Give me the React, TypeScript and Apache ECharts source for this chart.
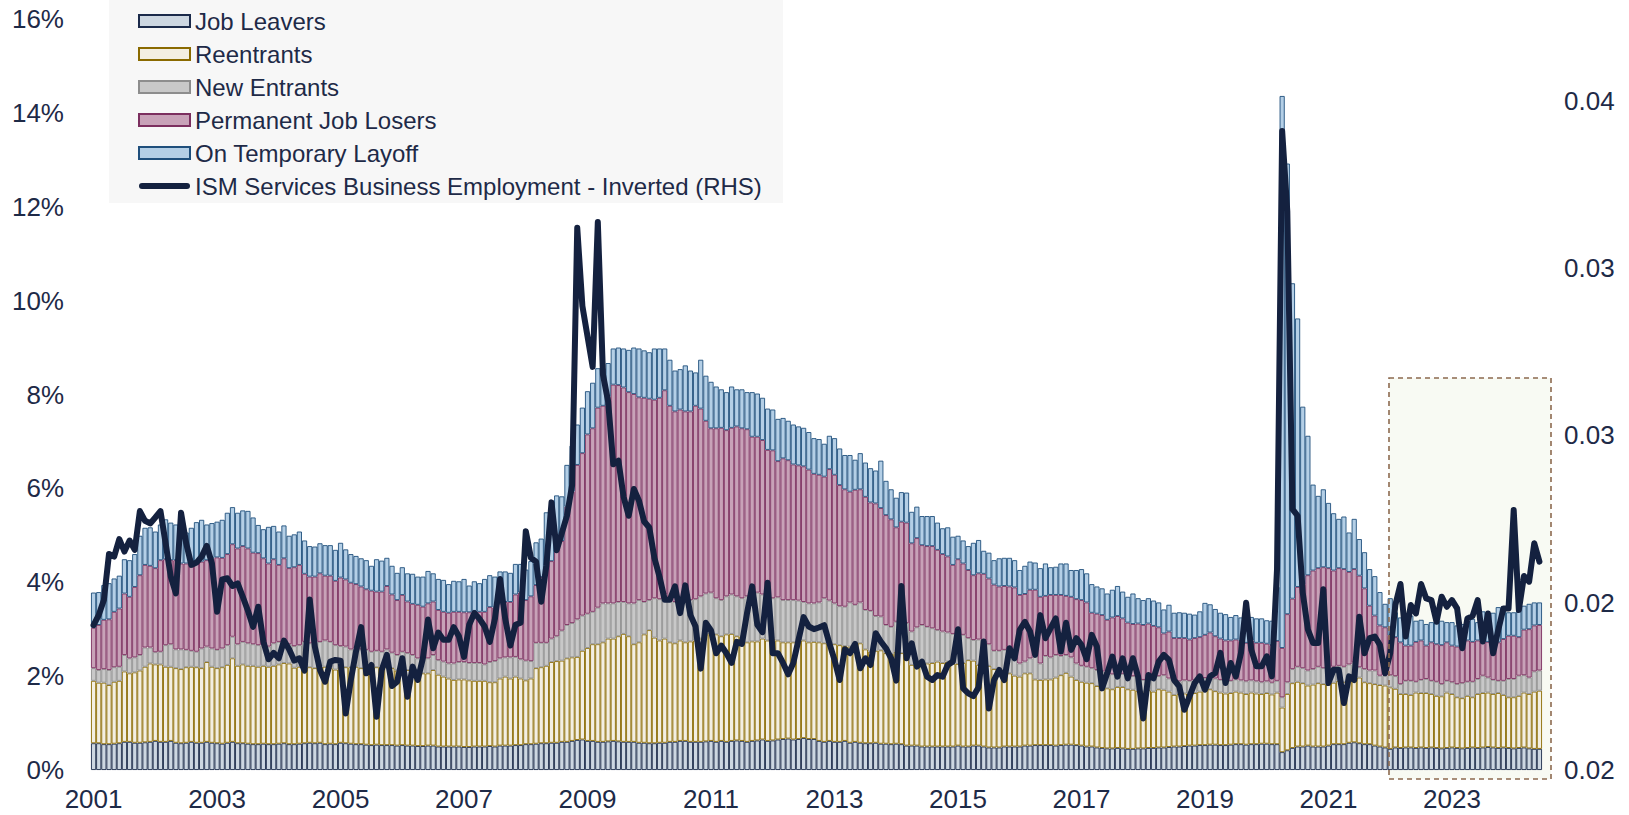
import React, { useEffect, useRef } from "react";
import * as echarts from "echarts";

// Monthly categories Jan 2001 - Jun 2024
const months: string[] = [];
for (let y = 2001; y <= 2024; y++) {
  for (let m = 1; m <= 12; m++) {
    if (y === 2024 && m > 6) break;
    months.push(`${y}-${String(m).padStart(2, "0")}`);
  }
}

// Unemployment by reason, % of labour force (stacked, bottom to top)
const jobLeavers = [
  .57,.57,.55,.55,.56,.57,.60,.60,.58,.58,.59,.60,
  .62,.60,.60,.62,.58,.57,.58,.60,.58,.58,.60,.58,
  .57,.56,.58,.60,.57,.57,.56,.55,.55,.56,.55,.55,
  .56,.57,.55,.55,.56,.57,.58,.57,.58,.55,.56,.55,
  .58,.57,.56,.55,.55,.54,.53,.54,.53,.53,.53,.52,
  .53,.52,.52,.51,.51,.52,.52,.50,.50,.50,.50,.50,
  .49,.49,.50,.50,.50,.51,.50,.52,.52,.52,.53,.53,
  .55,.55,.56,.57,.57,.58,.58,.60,.60,.62,.64,.65,
  .62,.62,.60,.60,.61,.62,.61,.60,.60,.60,.58,.58,
  .57,.57,.58,.58,.60,.60,.62,.62,.60,.60,.60,.61,
  .62,.60,.62,.60,.62,.63,.62,.60,.62,.63,.65,.62,
  .63,.65,.66,.67,.65,.66,.68,.66,.66,.62,.60,.62,
  .60,.60,.62,.58,.60,.58,.57,.57,.58,.56,.56,.55,
  .56,.55,.52,.52,.52,.50,.50,.50,.50,.50,.50,.50,
  .52,.50,.50,.52,.52,.50,.48,.48,.48,.50,.50,.50,
  .50,.52,.52,.53,.53,.53,.53,.52,.53,.54,.54,.53,
  .52,.50,.50,.48,.47,.46,.46,.47,.46,.45,.45,.46,
  .46,.47,.47,.48,.48,.49,.50,.50,.51,.52,.52,.53,
  .53,.54,.54,.53,.53,.54,.55,.55,.54,.55,.55,.56,
  .56,.55,.55,.38,.42,.47,.50,.50,.52,.50,.50,.50,
  .52,.55,.55,.55,.58,.59,.57,.55,.55,.52,.50,.48,
  .45,.48,.47,.48,.48,.47,.48,.47,.48,.47,.46,.47,
  .48,.47,.46,.47,.48,.47,.48,.49,.48,.47,.48,.47,
  .46,.47,.48,.46,.45,.45,
];

const reentrants = [
  1.33,1.29,1.31,1.26,1.32,1.33,1.50,1.46,1.50,1.54,1.61,1.67,
  1.63,1.65,1.60,1.58,1.59,1.58,1.61,1.60,1.61,1.59,1.70,1.62,
  1.60,1.63,1.66,1.78,1.65,1.68,1.66,1.67,1.65,1.66,1.65,1.67,
  1.69,1.71,1.72,1.63,1.64,1.63,1.61,1.60,1.62,1.65,1.61,1.59,
  1.62,1.62,1.63,1.65,1.62,1.59,1.64,1.65,1.67,1.67,1.64,1.60,
  1.61,1.61,1.61,1.59,1.55,1.54,1.61,1.53,1.49,1.45,1.42,1.43,
  1.44,1.42,1.40,1.40,1.40,1.36,1.37,1.43,1.47,1.43,1.46,1.42,
  1.36,1.40,1.61,1.62,1.65,1.72,1.74,1.73,1.78,1.78,1.77,1.89,
  1.98,2.06,2.08,2.12,2.19,2.18,2.24,2.30,2.25,2.08,2.14,2.31,
  2.41,2.25,2.18,2.22,2.12,2.10,2.14,2.10,2.14,2.16,2.20,2.28,
  2.31,2.29,2.23,2.29,2.28,2.22,2.23,2.12,2.12,2.11,2.15,2.14,
  2.17,2.11,2.06,2.05,2.07,2.06,2.08,2.06,2.07,2.10,2.10,2.11,
  2.08,2.06,2.02,2.05,2.10,2.12,2.00,1.95,1.96,1.99,1.93,1.92,
  1.96,1.94,1.95,1.72,1.68,1.77,1.77,1.78,1.81,1.78,1.81,1.77,
  1.74,1.78,1.84,1.81,1.72,1.74,1.74,1.67,1.64,1.63,1.56,1.51,
  1.49,1.54,1.54,1.40,1.39,1.40,1.40,1.45,1.49,1.53,1.45,1.39,
  1.36,1.36,1.35,1.31,1.27,1.28,1.26,1.30,1.31,1.27,1.26,1.23,
  1.21,1.23,1.20,1.24,1.23,1.18,1.10,1.12,1.12,1.10,1.12,1.14,
  1.16,1.18,1.14,1.12,1.10,1.10,1.12,1.10,1.08,1.10,1.08,1.06,
  1.08,1.06,1.10,0.95,1.20,1.38,1.38,1.35,1.28,1.32,1.35,1.33,
  1.30,1.31,1.35,1.33,1.37,1.42,1.40,1.32,1.30,1.31,1.31,1.32,
  1.31,1.25,1.15,1.14,1.12,1.18,1.16,1.17,1.14,1.11,1.11,1.18,
  1.14,1.08,1.07,1.11,1.07,1.15,1.16,1.16,1.14,1.17,1.12,1.08,
  1.09,1.11,1.17,1.16,1.22,1.24,
];

const newEntrants = [
  .27,.27,.29,.32,.31,.30,.35,.32,.32,.33,.41,.34,
  .26,.27,.46,.48,.40,.42,.37,.34,.33,.42,.33,.39,
  .39,.40,.42,.46,.46,.48,.48,.46,.46,.44,.43,.48,
  .48,.50,.41,.46,.46,.53,.51,.54,.53,.56,.56,.52,
  .44,.44,.38,.39,.40,.43,.35,.35,.32,.37,.33,.33,
  .38,.36,.32,.28,.30,.32,.32,.31,.32,.32,.35,.37,
  .37,.37,.38,.38,.35,.43,.45,.43,.41,.45,.42,.41,
  .42,.37,.54,.52,.49,.50,.53,.64,.71,.73,.80,.75,
  .73,.69,.78,.83,.75,.75,.73,.68,.70,.87,.90,.69,
  .64,.84,.88,.94,.90,.88,.86,.94,.88,.88,.90,.87,
  .85,.77,.77,.81,.84,.85,.81,.98,1.04,1.04,.94,.98,
  .86,.92,.90,.90,.90,.89,.82,.83,.82,.85,.96,.88,
  .87,.83,.84,.94,.82,.87,.84,.87,.74,.72,.60,.58,
  .64,.53,.66,.71,.84,.82,.78,.74,.67,.67,.62,.63,
  .62,.60,.47,.44,.54,.52,.46,.39,.42,.43,.48,.51,
  .28,.25,.32,.50,.35,.50,.47,.48,.41,.38,.41,.35,
  .34,.34,.32,.34,.36,.28,.32,.30,.28,.30,.29,.29,
  .25,.28,.28,.28,.31,.28,.28,.27,.28,.28,.27,.28,
  .27,.26,.27,.27,.28,.26,.26,.26,.27,.26,.26,.25,
  .25,.25,.25,.22,.25,.30,.32,.32,.32,.33,.35,.34,
  .33,.34,.32,.32,.30,.28,.22,.28,.27,.29,.20,.21,
  .26,.27,.21,.28,.30,.23,.28,.30,.28,.30,.26,.25,
  .25,.28,.32,.30,.33,.32,.37,.32,.30,.26,.30,.39,
  .39,.43,.37,.35,.43,.43,
];

const permanentJobLosers = [
  .86,.96,1.05,1.08,1.18,1.24,1.31,1.31,1.50,1.70,1.76,1.74,
  1.79,1.95,1.83,1.79,1.90,1.83,1.84,1.86,1.90,1.85,1.84,1.92,
  1.97,1.93,1.94,1.97,2.04,2.04,2.02,1.95,1.96,1.85,1.77,1.79,
  1.64,1.73,1.62,1.68,1.71,1.45,1.42,1.41,1.46,1.38,1.41,1.37,
  1.46,1.43,1.42,1.37,1.34,1.29,1.30,1.26,1.28,1.35,1.24,1.17,
  1.21,1.10,1.09,1.14,1.12,1.17,1.14,1.07,1.06,1.08,1.10,1.07,
  1.06,1.08,1.11,1.09,1.12,1.17,1.14,1.17,1.18,1.18,1.33,1.42,
  1.29,1.38,1.23,1.40,1.64,1.65,1.91,1.91,2.52,2.80,3.29,3.46,
  3.82,3.91,4.26,4.21,4.40,4.66,4.62,4.57,4.50,4.46,4.32,4.35,
  4.29,4.23,4.29,4.35,4.14,4.06,4.06,3.98,4.02,4.12,4.00,3.68,
  3.50,3.62,3.67,3.54,3.55,3.62,3.62,3.56,3.32,3.32,3.29,3.08,
  3.15,2.90,3.02,2.98,2.89,2.88,2.89,2.85,2.76,2.72,2.59,2.80,
  2.74,2.58,2.50,2.36,2.45,2.41,2.41,2.31,2.40,2.31,2.34,2.29,
  2.01,2.27,2.14,1.88,1.90,1.70,1.72,1.75,1.71,1.65,1.62,1.47,
  1.61,1.52,1.45,1.38,1.41,1.42,1.40,1.41,1.37,1.36,1.37,1.37,
  1.46,1.44,1.46,1.41,1.42,1.28,1.33,1.28,1.30,1.26,1.29,1.37,
  1.40,1.37,1.18,1.20,1.20,1.18,1.21,1.21,1.18,1.12,1.11,1.14,
  1.17,1.14,1.12,1.04,.89,1.00,.93,.92,.90,.88,.90,.88,
  .92,.95,.90,.88,.85,.86,.85,.84,.82,.85,.82,.84,
  .80,.80,.85,1.05,1.45,1.50,1.70,1.78,2.03,2.10,2.10,2.15,
  2.15,2.05,2.08,2.08,1.97,1.99,1.95,1.72,1.38,1.17,1.07,1.03,
  .84,.83,.89,.75,.75,.85,.84,.71,.82,.80,.83,.82,
  .78,.80,.87,.88,.85,.82,.82,.76,.87,.82,.89,.92,
  .92,.82,.97,1.03,.98,.97,
];

const temporaryLayoff = [
  .75,.70,.74,.77,.71,.70,.73,.78,.70,.84,.79,.82,
  .78,.76,.85,.80,.76,.86,.66,.76,.86,.89,.76,.75,
  .76,.81,.88,.79,.76,.76,.80,.75,.60,.62,.78,.71,
  .71,.70,.69,.70,.71,.71,.65,.64,.64,.65,.65,.66,
  .74,.64,.61,.60,.60,.62,.53,.69,.66,.60,.61,.58,
  .59,.60,.64,.60,.64,.69,.60,.66,.68,.61,.66,.65,
  .71,.57,.63,.61,.70,.68,.66,.68,.65,.62,.65,.61,
  .65,.75,.91,.82,1.14,1.02,1.09,.95,.89,.98,.86,.97,
  .92,.97,.84,.80,.72,.77,.80,.83,.90,.99,1.04,1.01,
  .99,1.09,1.05,.89,.98,.87,.86,.98,.87,.71,1.04,.96,
  .99,.89,.82,.81,.88,.79,.83,.79,.95,.92,.90,.88,
  .87,.90,.86,.84,.85,.83,.82,.80,.76,.76,.70,.71,
  .78,.78,.73,.78,.64,.77,.73,.73,.70,1.01,.73,.64,
  .63,.63,.64,.67,.67,.62,.64,.64,.58,.55,.62,.60,
  .50,.49,.51,.69,.71,.49,.55,.52,.60,.60,.61,.58,
  .53,.60,.60,.58,.61,.69,.59,.60,.67,.69,.57,.62,
  .66,.62,.61,.58,.57,.56,.59,.64,.57,.55,.65,.54,
  .53,.54,.54,.53,.51,.57,.54,.55,.54,.55,.50,.55,
  .68,.60,.58,.55,.56,.50,.52,.50,.52,.50,.52,.52,
  .50,.52,1.15,11.76,9.60,6.72,5.72,3.79,2.97,1.83,1.54,1.66,
  1.39,1.22,1.05,1.12,.84,1.07,.78,.77,.78,.84,.71,.50,
  .80,.53,.53,.65,.64,.45,.44,.46,.43,.55,.52,.43,
  .50,.45,.39,.42,.49,.39,.55,.63,.56,.75,.70,.50,
  .50,.64,.51,.54,.49,.48,
];

// ISM Services Business Employment - Inverted (right-hand scale)
const ismInverted = [
  .01933,.01963,.02008,.02146,.02138,.02190,.02153,.02186,.02158,.02274,.02245,.02237,
  .02255,.02274,.02178,.02078,.02028,.02269,.02178,.02113,.02120,.02138,.02170,.02118,
  .01973,.02070,.02073,.02050,.02058,.02018,.01976,.01928,.01988,.01884,.01831,.01850,
  .01834,.01887,.01861,.01827,.01834,.01797,.02010,.01869,.01799,.01764,.01824,.01829,
  .01827,.01669,.01769,.01854,.01927,.01789,.01814,.01659,.01799,.01844,.01751,.01764,
  .01834,.01719,.01809,.01769,.01834,.01950,.01864,.01911,.01889,.01889,.01927,.01900,
  .01838,.01934,.01969,.01952,.01929,.01883,.01952,.02071,.01952,.01872,.01934,.01940,
  .02214,.02134,.02123,.02003,.02111,.02300,.02157,.02208,.02260,.02351,.03121,.02887,
  .02796,.02705,.03138,.02682,.02602,.02414,.02425,.02317,.02260,.02340,.02305,.02243,
  .02225,.02134,.02077,.02009,.02009,.02049,.01969,.02052,.01963,.01929,.01803,.01940,
  .01917,.01849,.01872,.01849,.01820,.01883,.01877,.01969,.02049,.01934,.01912,.02060,
  .01849,.01849,.01820,.01786,.01820,.01889,.01957,.01929,.01921,.01926,.01933,.01879,
  .01829,.01769,.01861,.01849,.01877,.01804,.01834,.01814,.01909,.01884,.01864,.01834,
  .01767,.02050,.01834,.01879,.01809,.01824,.01779,.01769,.01784,.01779,.01814,.01824,
  .01921,.01744,.01729,.01721,.01747,.01884,.01684,.01769,.01799,.01769,.01864,.01834,
  .01919,.01943,.01914,.01844,.01963,.01894,.01924,.01953,.01854,.01940,.01859,.01894,
  .01874,.01831,.01904,.01869,.01744,.01789,.01839,.01779,.01834,.01774,.01834,.01779,
  .01654,.01784,.01774,.01824,.01844,.01829,.01769,.01750,.01680,.01720,.01760,.01780,
  .01740,.01780,.01790,.01850,.01760,.01820,.01780,.01850,.02000,.01860,.01810,.01810,
  .01840,.01780,.02100,.03410,.03170,.02280,.02260,.02030,.01920,.01880,.01880,.02040,
  .01760,.01800,.01800,.01700,.01780,.01769,.01958,.01849,.01894,.01899,.01874,.01789,
  .01849,.01993,.02056,.01899,.01993,.01968,.02056,.02013,.02008,.01943,.02018,.01988,
  .02008,.01983,.01864,.01953,.01960,.02008,.01884,.01968,.01849,.01919,.01983,.01983,
  .02277,.01978,.02080,.02063,.02178,.02123,
];

const leftTicks = [0, 2, 4, 6, 8, 10, 12, 14, 16];

const TEXT = "#1e2a47";
const LINE = "#14213f";
const FONT = "'Liberation Sans', Arial, sans-serif";

const seriesDefs = [
  { name: "Job Leavers", data: jobLeavers, fill: "#cdd7e1", border: "#1b2a4a" },
  { name: "Reentrants", data: reentrants, fill: "#f3efe3", border: "#8a6a00" },
  { name: "New Entrants", data: newEntrants, fill: "#c8c8c8", border: "#8d8d8d" },
  { name: "Permanent Job Losers", data: permanentJobLosers, fill: "#c8a2b8", border: "#7c2f5f" },
  { name: "On Temporary Layoff", data: temporaryLayoff, fill: "#b4cfe6", border: "#1f4f7c" },
];
const LINE_NAME = "ISM Services Business Employment - Inverted (RHS)";

export default function App() {
  const ref = useRef<HTMLDivElement>(null);
  useEffect(() => {
    if (!ref.current) return;
    const chart = echarts.init(ref.current, undefined, { renderer: "svg" });
    const option: any = {
      animation: false,
      backgroundColor: "#ffffff",
      textStyle: { fontFamily: FONT, color: TEXT },
      grid: { left: 91, right: 87, top: 19, bottom: 45, containLabel: false },
      legend: {
        orient: "vertical",
        left: 138,
        top: 8,
        padding: 0,
        itemGap: 7,
        itemWidth: 51,
        itemHeight: 12,
        symbolKeepAspect: true,
        textStyle: { fontSize: 24, color: TEXT, fontFamily: FONT, lineHeight: 26 },
        data: [
          ...seriesDefs.map((s) => ({ name: s.name, icon: "rect" })),
          {
            name: LINE_NAME,
            icon: "path://M3,0 L48,0 A3,3 0 0 1 48,6 L3,6 A3,3 0 0 1 3,0 Z",
            itemStyle: { color: LINE, borderWidth: 0 },
          },
        ],
      },
      xAxis: {
        type: "category",
        data: months,
        boundaryGap: true,
        axisLine: { show: false },
        axisTick: { show: false },
        splitLine: { show: false },
        axisLabel: {
          interval: (idx: number) => idx % 24 === 0,
          formatter: (v: string) => v.slice(0, 4),
          fontSize: 26,
          color: TEXT,
          fontFamily: FONT,
          margin: 16,
        },
      },
      yAxis: [
        {
          type: "value",
          min: leftTicks[0],
          max: leftTicks[leftTicks.length - 1],
          interval: 2,
          axisLine: { show: false },
          axisTick: { show: false },
          splitLine: { show: false },
          axisLabel: {
            formatter: (v: number) => `${v}%`,
            fontSize: 26,
            color: TEXT,
            fontFamily: FONT,
            margin: 27,
          },
        },
        {
          type: "value",
          position: "right",
          min: 0.015,
          max: 0.03745,
          interval: 0.005,
          axisLine: { show: false },
          axisTick: { show: false },
          splitLine: { show: false },
          axisLabel: {
            formatter: (v: number) =>
              v > 0.0351 ? "" : (Math.round(v * 100 + 1e-6) / 100).toFixed(2),
            fontSize: 26,
            color: TEXT,
            fontFamily: FONT,
            margin: 22,
          },
        },
      ],
      graphic: {
        elements: [
          {
            type: "rect",
            z: 0,
            shape: { x: 109, y: 0, width: 674, height: 203 },
            style: { fill: "#f7f7f7" },
            silent: true,
          },
          {
            type: "rect",
            z: 0,
            shape: { x: 1389, y: 378, width: 162, height: 401 },
            style: { fill: "#f8faf3" },
            silent: true,
          },
          {
            type: "rect",
            z: 20,
            shape: { x: 1389, y: 378, width: 162, height: 401 },
            style: { fill: "none", stroke: "#8c6a4f", lineWidth: 1.6, lineDash: [5, 4] },
            silent: true,
          },
        ],
      },
      series: [
        ...seriesDefs.map((s) => ({
          name: s.name,
          type: "bar",
          stack: "reasons",
          yAxisIndex: 0,
          data: s.data,
          barCategoryGap: "0%",
          itemStyle: { color: s.fill, borderColor: s.border, borderWidth: 0.9 },
          emphasis: { disabled: true },
        })),
        {
          name: LINE_NAME,
          type: "line",
          yAxisIndex: 1,
          data: ismInverted,
          symbol: "none",
          showSymbol: false,
          z: 10,
          lineStyle: { color: LINE, width: 6, cap: "round", join: "round" },
          itemStyle: { color: LINE },
          emphasis: { disabled: true },
        },
      ],
    };
    chart.setOption(option);
    return () => chart.dispose();
  }, []);
  return (
    <div
      ref={ref}
      style={{ position: "absolute", left: 0, top: 0, width: 1629, height: 815 }}
    />
  );
}
